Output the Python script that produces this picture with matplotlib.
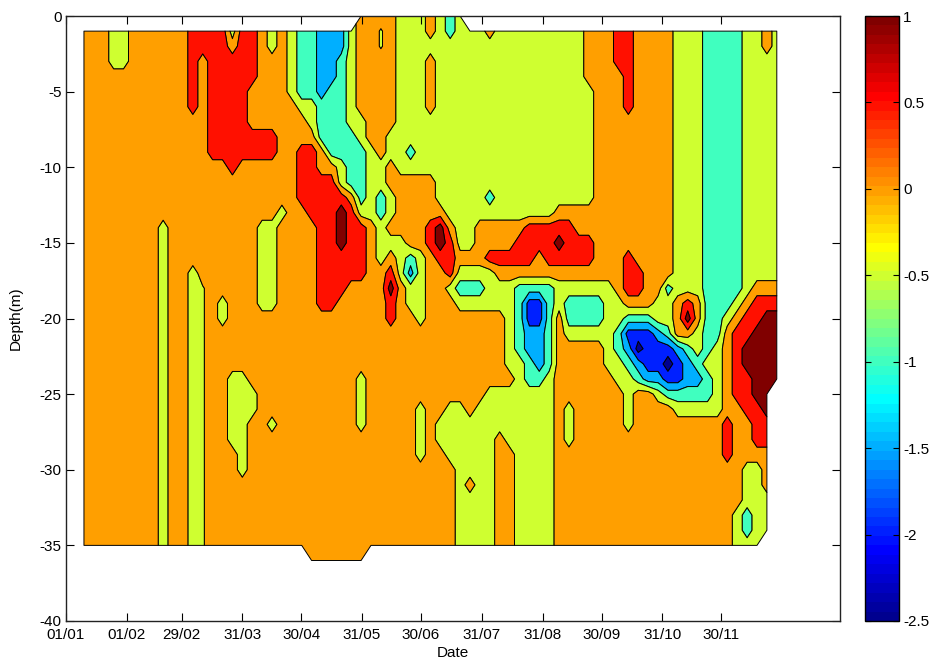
import numpy as np
import matplotlib
matplotlib.use("Agg")
import matplotlib.pyplot as plt
from matplotlib.colors import ListedColormap, Normalize
from matplotlib.cm import ScalarMappable

plt.rcParams['font.family'] = ['Liberation Sans', 'DejaVu Sans']
plt.rcParams['axes.unicode_minus'] = False

# ---------------- data ----------------
tick_days = [0, 31, 59, 90, 120, 151, 181, 212, 243, 273, 304, 334]
tick_labels = ['01/01', '01/02', '29/02', '31/03', '30/04', '31/05',
               '30/06', '31/07', '31/08', '30/09', '31/10', '30/11']
first_day, last_day = 9.3, 362.3          # first / last profile (day of year)
depths = list(range(0, 37))               # m
levels = [-2.5, -2.0, -1.5, -1.0, -0.5, 0.0, 0.5, 1.0, 1.5]
cbar_ticks = [-2.5, -2, -1.5, -1, -0.5, 0, 0.5, 1]

# value read for each grid cell (one code per class of the picture)
band_values = {'n': -2.25, 'b': -1.75, 'l': -1.25, 'a': -0.75, 'y': -0.25,
               'Y': -0.05, 'o': 0.25, 'r': 0.75, 'd': 1.25, '.': np.nan}

# one row per depth (0..36 m), 71 profiles each (groups of 10)
field_rows = [
    ".......... .......... ........oo ooyyyoyay. .......... .......... .......... .",
    "oooyyooooo orrrryrroy oyaalllyoo Yoyyyoyayy yoyyyyyyyy yooorroooo yyyaaaayyo y",
    "oooyyooooo orrrrorroy oyaalllyoo Yoyyyyyyyy yyyyyyyyyy yooorroooo yyyaaaayyo y",
    "oooyyooooo ororrrrroo oyaallayoo ooyyyoyyyy yyyyyyyyyy yooorroooo yyyaaaayyy y",
    "oooooooooo ororrrrroo oyaallayoo ooyyyoyyyy yyyyyyyyyy yooooroooo yyyaaaayyy y",
    "oooooooooo ororrrrooo oyaalaayoo ooyyyoyyyy yyyyyyyyyy yyoooroooo yyyaaaayyy y",
    "oooooooooo ororrrrooo ooyyaaayoo ooyyyoyyyy yyyyyyyyyy yyoooroooo yyyaaaayyy y",
    "oooooooooo ooorrrrooo oooyaaayyo ooyyyyyyyy yyyyyyyyyy yyoooooooo yyyaaaayyy y",
    "oooooooooo ooorrrrrrr ooooaaaayo oyyyyyyyyy yyyyyyyyyy yyoooooooo yyyaaaayyy y",
    "oooooooooo ooorrrrrrr oorroaaaay oyyayyyyyy yyyyyyyyyy yyoooooooo yyyaaaayyy y",
    "oooooooooo oooooroooo oorrooyaay yoyyyyyyyy yyyyyyyyyy yyoooooooo yyyaaaayyy y",
    "oooooooooo oooooooooo oorrrryaay yoooooyyyy yyyyyyyyyy yyoooooooo yyyaaaayyy y",
    "oooooooooo oooooooooo oorrrrroay ayooooyyyy yayyyyyyyy yyoooooooo yyyaaaayyy y",
    "oooooooooo oooooooooo yoorrrdryy ayoooooyyy yyyyyyyyoo oooooooooo yyyaaaayyy y",
    "ooooooooyo ooooooooyy oooorrdrro yoooordoyy ooooorrrrr oooooooooo yyyaaaayyy y",
    "ooooooooyo ooooooooyy oooorrdrro yyyoordryy oooorrrrdr rroooooooo yyyaaaayyy y",
    "ooooooooyo ooooooooyy oooorrrrro yoyayorroo orrrrrorrr rroooroooo yyyaaaayyy y",
    "ooooooooyo oyooooooyy oooorrrrro orylyooryy yyoooooooo ooooorrooo yyyaaaayyy y",
    "ooooooooyo oyYoooooyy oooorrrooo odoyyooyaa ayyyaaaayy yyyyorrooa yyyaaaayoo o",
    "ooooooooyo oyYoyoooyy oooorroooo oroyyoooyy yyyyabbaya aaayyoooyy oroaaayorr r",
    "ooooooooyo oyYoyooooo oooooooooo orooyooooo oooyabbaoa aaayyaaayy odoaayorrd d",
    "ooooooooyo oyYooooooo oooooooooo oooooooooo oooyallaoy yyyyabbbla ooyaaorrdd d",
    "ooooooooyo oyYooooooo oooooooooo oooooooooo oooyallaoo oooyalnbbb layayorddd d",
    "ooooooooyo oyYooooooo oooooooooo oooooooooo oooyyalaoo oooyyalbbn blayyorddd d",
    "ooooooooyo oyYooyyooo ooooooooyo oooooooooo ooooyaayoo ooooyyallb bllayorrdd d",
    "ooooooooyo oyYooyyyoo ooooooooyo oooooooooo oyyyyyyyoo oooooyooya aaaayorrdd .",
    "ooooooooyo oyYooyyyoo ooooooooyo ooooyooyyo yyyyyyyyoy oooooyoooo yyyyyoorrd .",
    "ooooooooyo oyYooyyooy ooooooooyo ooooyoyyyy yyyyyyyyoy oooooyoooo oooooroorr .",
    "ooooooooyo oyYooyyooo oooooooooo ooooyoyyyy yyoyyyyyoy oooooooooo oooooroorr .",
    "ooooooooyo oyYoooyooo oooooooooo ooooyooyyy yyooyyyyoo oooooooooo oooooroooo .",
    "ooooooooyo oyYoooyooo oooooooooo ooooooooyy yyooyyyyoo oooooooooo oooooooyyo .",
    "ooooooooyo oyYooooooo oooooooooo ooooooooyo yyooyyyyoo oooooooooo oooooooyyo .",
    "ooooooooyo oyYooooooo oooooooooo ooooooooyy yyooyyyyoo oooooooooo oooooooyyy .",
    "ooooooooyo oyYooooooo oooooooooo ooooooooyy yyooyyyyoo oooooooooo ooooooyayy .",
    "ooooooooyo oyYooooooo oooooooooo ooooooooyy yyooyyyyoo oooooooooo ooooooyayy .",
    "ooooooooyo oyYooooooo oooooooooo ooooooooyy yyooyyyyoo oooooooooo ooooooyyy. .",
    ".......... .......... ...oooooo. .......... .......... .......... .......... .",
]

# ---------------- build grid ----------------
rows = ["".join(r.split()) for r in field_rows]
ncol = len(rows[0])
for i, r in enumerate(rows):
    assert len(r) == ncol, (i, len(r))
Z = np.array([[band_values[c] for c in r] for r in rows])
Z = np.ma.masked_invalid(Z)
days = np.linspace(first_day, last_day, ncol)
X, D = np.meshgrid(days, np.array(depths, dtype=float))


def matlab_jet(m=64):
    n = int(np.ceil(m / 4))
    u = np.concatenate([np.arange(1, n + 1) / n, np.ones(n - 1), np.arange(n, 0, -1) / n])
    g = int(np.ceil(n / 2)) - (1 if m % 4 == 1 else 0) + np.arange(1, len(u) + 1)
    J = np.zeros((m, 3))
    for col, idx in ((0, g + n), (1, g), (2, g - n)):
        ok = (idx >= 1) & (idx <= m)
        J[idx[ok] - 1, col] = u[ok]
    return J


J = matlab_jet(64)
cmin, cmax = -2.5, 1.0


def level_color(v):
    i = int(np.fix((v - cmin) / (cmax - cmin) * len(J))) + 1
    i = min(max(i, 1), len(J))
    return J[i - 1]


band_colors = [level_color(v) for v in levels[:-1]]

# ---------------- figure ----------------
W, H = 934, 662
fig = plt.figure(figsize=(W / 100, H / 100), dpi=100)
ax = fig.add_axes([65.7 / W, 41 / H, (840 - 65.7) / W, 605 / H])

cs = ax.contourf(X, -D, Z, levels=levels, colors=band_colors, antialiased=True)
cs.set_edgecolor('k')
cs.set_linewidth(0.7)

ax.set_xlim(0, 394.5)
ax.set_ylim(-40, 0)
ax.set_xticks(tick_days)
ax.set_xticklabels(tick_labels)
ax.set_yticks(np.arange(-40, 1, 5))
ax.set_yticklabels([str(v) for v in range(-40, 1, 5)])
ax.tick_params(direction='in', top=True, right=True, length=5.5, width=0.8,
               labelsize=11, colors='k')
ax.tick_params(axis='x', pad=5)
ax.tick_params(axis='y', pad=3)
for sp in ax.spines.values():
    sp.set_linewidth(1.0)
    sp.set_color('#222222')
ax.set_xlabel('Date', fontsize=11, labelpad=3)
ax.set_ylabel('Depth(m)', fontsize=11, labelpad=12)

cax = fig.add_axes([865 / W, 41 / H, 34 / W, 605 / H])
sm = ScalarMappable(norm=Normalize(cmin, cmax), cmap=ListedColormap(J))
cb = fig.colorbar(sm, cax=cax, ticks=cbar_ticks)
cb.ax.set_yticklabels(['-2.5', '-2', '-1.5', '-1', '-0.5', '0', '0.5', '1'])
cb.ax.tick_params(direction='in', left=True, right=True, length=4, width=0.8,
                  labelsize=11, pad=3)
cb.outline.set_linewidth(1.0)

fig.savefig('out.png', dpi=100)
